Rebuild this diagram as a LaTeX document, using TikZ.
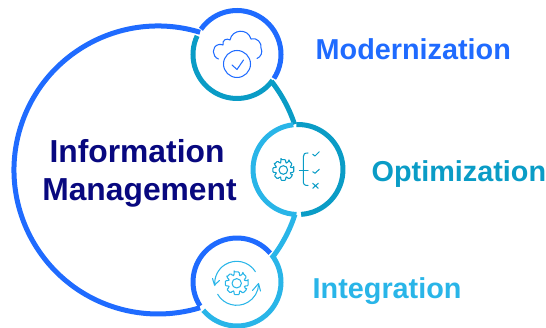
\documentclass[tikz,border=0pt]{standalone}
\usepackage{fontspec}
\setmainfont{Liberation Sans}
\usetikzlibrary{arrows.meta}
\definecolor{cblue}{HTML}{1F6BFF}
\definecolor{cteal}{HTML}{0A9CC6}
\definecolor{clight}{HTML}{29B5E8}
\definecolor{cnavy}{HTML}{08087F}
\tikzset{
 ring/.style={line width=5pt},
 icon/.style={line width=1.05pt,line cap=round,line join=round},
 lab/.style={font=\bfseries\fontsize{28.8}{30}\selectfont,anchor=base west,inner sep=0pt},
 mainlab/.style={font=\bfseries\fontsize{31.8}{34}\selectfont,text=cnavy,anchor=base,inner sep=0pt},
}
\newcommand{\ringarc}[5]{% colour, centre, radius, from, to
 \draw[ring,#1] ([shift={(#4:#3)}]#2) arc[start angle=#4,end angle=#5,radius=#3];}
\newcommand{\gearicon}[5]{% x y outer inner colour
 \draw[icon,#5] (#1,#2) circle (#4);
 \begin{scope}[shift={(#1,#2)},scale=#3]
 \draw[icon,#5,rounded corners=1pt]
   (-13:1) \foreach \a in {0,45,...,315}{
     -- ({\a-13}:1) -- ({\a+13}:1) -- ({\a+18}:0.72) -- ({\a+27}:0.72) -- ({\a+32}:1)
   } -- cycle;
 \end{scope}}
\begin{document}
\begin{tikzpicture}[x=1pt,y=-1pt]
\useasboundingbox (0,0) rectangle (546,328);
\coordinate (B) at (158,170);
\coordinate (A1) at (237,54.5);
\coordinate (A2) at (298,169.5);
\coordinate (A3) at (237,282);
% big circle
\ringarc{cblue}{B}{144}{-73}{-287}
\ringarc{cteal}{B}{144}{-38}{-18.5}
\ringarc{clight}{B}{144}{18}{37.5}
% ring 1
\ringarc{cblue}{A1}{44}{-145}{33}
\ringarc{cteal}{A1}{44}{36}{205}
% ring 2
\ringarc{cteal}{A2}{45}{-92}{86}
\ringarc{clight}{A2}{45}{92}{264}
% ring 3
\ringarc{cblue}{A3}{44}{-41}{-213}
\ringarc{clight}{A3}{44}{140}{-38}
% cloud icon
\draw[icon,cblue] (218.5,59) .. controls (212,57) and (211,46) .. (219,44.5) .. controls (220.5,44.3) and (222,44.5) .. (223,45)
  .. controls (222,39.5) and (227,38) .. (230,40) .. controls (232,29) and (248,28) .. (251,39) .. controls (257,37) and (262,43) .. (261,48) .. controls (263,52) and (261,57) .. (257,58.5);
\draw[icon,cblue] (237,64) circle (13.5);
\draw[icon,cblue] (232,65) -- (237,69.5) -- (243.5,60);
% optimization icon
\gearicon{283.3}{170}{10.7}{4.3}{cteal}
\draw[icon,cteal] (308,153) .. controls (304.5,153) and (303.3,154) .. (303.3,157) -- (303.3,181) .. controls (303.3,184.5) and (304.5,185.5) .. (308,185.5);
\draw[icon,cteal] (299.3,170.7) -- (308,170.7);
\draw[icon,cteal] (312.7,154.3) -- (315,156) -- (319.3,151.7);
\draw[icon,cteal] (312.7,171.7) -- (315,173.3) -- (319.3,169.3);
\draw[icon,cteal] (312.7,183.3) -- (318.3,188.3) (318.3,183.3) -- (312.7,188.3);
% integration icon
\coordinate (G3) at (236.7,283.3);
\gearicon{236.7}{283.3}{11.7}{4.7}{clight}
\draw[icon,clight] ([shift={(-32:22)}]G3) arc[start angle=-32,end angle=-186,radius=22];
\draw[icon,clight] (212.5,278.5) -- (214.5,285) -- (219.5,280.5);
\draw[icon,clight] ([shift={(150:22)}]G3) arc[start angle=150,end angle=2,radius=22];
\draw[icon,clight] (252.5,290.5) -- (258.5,283.5) -- (260.5,291);
% labels
\node[lab,text=cblue] (m) at (315.5,59.5) {Modernization};
\node[lab,text=cteal] (o) at (371.5,181.5) {Optimization};
\node[lab,text=clight] (i) at (312.5,299) {Integration};
\node[mainlab] (t1) at (137,163) {Information};
\node[mainlab] (t2) at (139.5,201) {Management};
\end{tikzpicture}
\end{document}
